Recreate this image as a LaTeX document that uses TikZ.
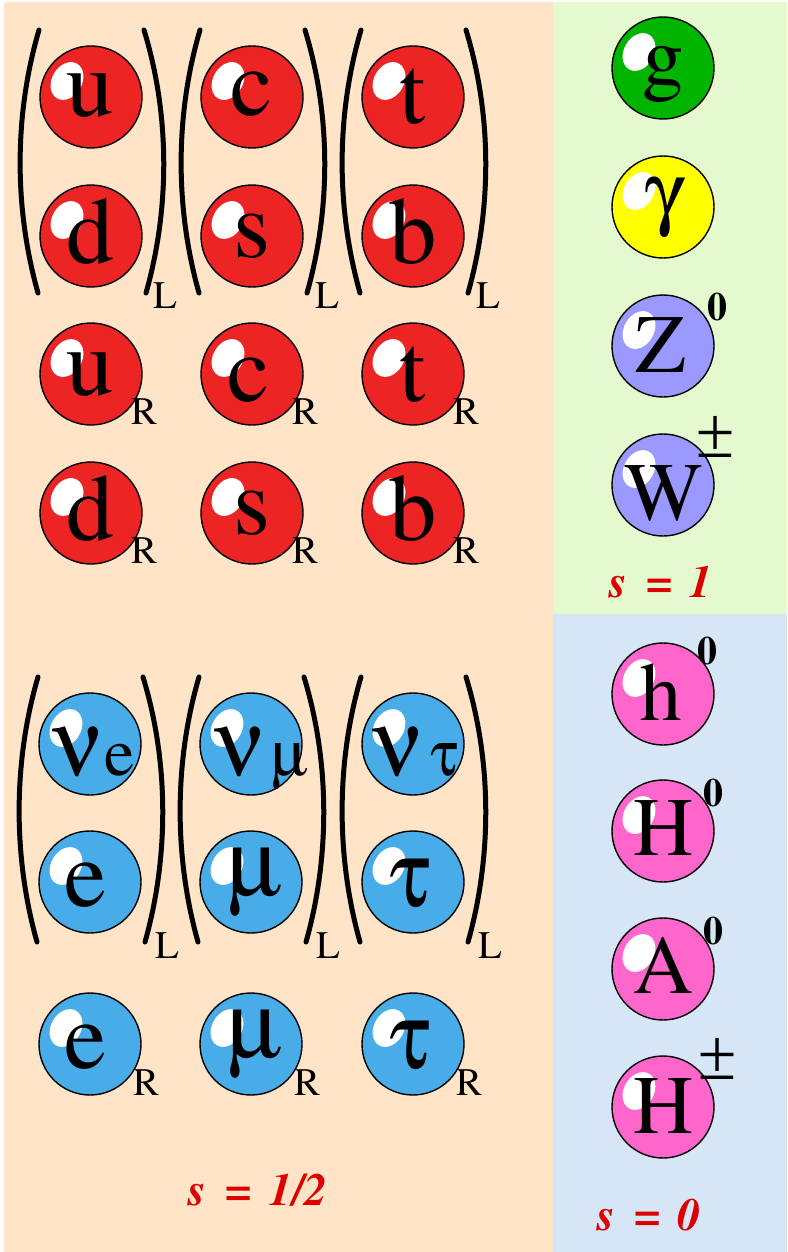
\documentclass[tikz,border=0pt]{standalone}
\usepackage[T1]{fontenc}
\renewcommand\rmdefault{ptm}
\usetikzlibrary{calc}
\newcommand\symg[1]{{\usefont{U}{psy}{m}{n}#1}}
\definecolor{bgorange}{RGB}{255,228,200}
\definecolor{bggreen}{RGB}{228,250,206}
\definecolor{bgblue}{RGB}{214,230,246}
\definecolor{qred}{RGB}{236,36,36}
\definecolor{lblue}{RGB}{72,172,232}
\definecolor{ggreen}{RGB}{0,180,0}
\definecolor{gyellow}{RGB}{255,255,0}
\definecolor{wlav}{RGB}{153,153,255}
\definecolor{hpink}{RGB}{255,102,204}
\definecolor{sred}{RGB}{221,0,0}
\tikzset{
  ballnode/.style={circle, draw=black, line width=1.4pt, minimum size=102pt, inner sep=0pt},
  fletter/.style={anchor=base, inner sep=0pt, font=\fontsize{95}{95}\selectfont},
  bletter/.style={anchor=base, inner sep=0pt, font=\fontsize{83}{83}\selectfont},
  chir/.style={anchor=base west, inner sep=0pt, font=\fontsize{39}{39}\selectfont},
  paren/.style={line width=5pt, line cap=round},
  supz/.style={inner sep=0pt, font=\fontsize{40}{40}\selectfont\bfseries},
  suppm/.style={inner sep=0pt, font=\fontsize{62}{62}\selectfont},
  spinlab/.style={anchor=base, inner sep=0pt, text=sred, font=\fontsize{46}{46}\selectfont\bfseries\itshape},
  shine/.style={fill=white},
}
\newcommand\pball[4]{%
  \node[ballnode, fill=#4] (#1) at (#2,#3) {};
  \coordinate (#1-hl) at ($(#1)+(-24,-16)$);
  \fill[shine, rotate around={60:(#1-hl)}] (#1-hl) ellipse [x radius=20pt, y radius=15pt];
}
\newcommand\pbrackets[3]{%
  \draw[paren] (#1-52,#2) .. controls (#1-77,#2+85) and (#1-77,#3-85) .. (#1-53,#3);
  \draw[paren] (#1+53,#2) .. controls (#1+79,#2+85) and (#1+79,#3-85) .. (#1+55,#3);
}
\begin{document}
\begin{tikzpicture}[x=1pt,y=-1pt]
\useasboundingbox (0,0) rectangle (787,1252);
\fill[white] (0,0) rectangle (787,1252);
\fill[bgorange] (4,2) rectangle (553,1252);
\fill[bggreen] (553,2) rectangle (787,614);
\fill[bgblue] (553,614) rectangle (787,1252);

% ---------- quarks ----------
\pbrackets{91}{30}{293}
\pbrackets{252}{30}{293}
\pbrackets{413}{30}{293}
\node[chir] (L1) at (153,308) {L};
\node[chir] (L2) at (315,308) {L};
\node[chir] (L3) at (476,308) {L};

\pball{u}{91}{97}{qred}
\pball{c}{252}{97}{qred}
\pball{t}{413}{97}{qred}
\pball{d}{91}{236}{qred}
\pball{s}{252}{236}{qred}
\pball{b}{413}{236}{qred}
\pball{uR}{91}{374}{qred}
\pball{cR}{252}{374}{qred}
\pball{tR}{413}{374}{qred}
\pball{dR}{91}{513}{qred}
\pball{sR}{252}{513}{qred}
\pball{bR}{413}{513}{qred}

\node[fletter] (u-t) at ($(u)+(-1,20)$) {u};
\node[fletter] (c-t) at ($(c)+(0,19)$) {c};
\node[fletter] (t-t) at ($(t)+(0,27)$) {t};
\node[fletter] (d-t) at ($(d)+(-1,27)$) {d};
\node[fletter] (s-t) at ($(s)+(0,21)$) {s};
\node[fletter] (b-t) at ($(b)+(0,27)$) {b};
\node[fletter] (uR-t) at ($(uR)+(-1,21)$) {u};
\node[fletter] (cR-t) at ($(cR)+(-3,27)$) {c};
\node[fletter] (tR-t) at ($(tR)+(0,27)$) {t};
\node[fletter] (dR-t) at ($(dR)+(-1,27)$) {d};
\node[fletter] (sR-t) at ($(sR)+(0,21)$) {s};
\node[fletter] (bR-t) at ($(bR)+(0,27)$) {b};

\node[chir] (uR-r) at ($(uR)+(40,50)$) {R};
\node[chir] (cR-r) at ($(cR)+(40,50)$) {R};
\node[chir] (tR-r) at ($(tR)+(40,50)$) {R};
\node[chir] (dR-r) at ($(dR)+(40,50)$) {R};
\node[chir] (sR-r) at ($(sR)+(40,50)$) {R};
\node[chir] (bR-r) at ($(bR)+(40,50)$) {R};

% ---------- leptons ----------
\pbrackets{90}{677}{942}
\pbrackets{251}{677}{942}
\pbrackets{413}{677}{942}
\node[chir] (L4) at (155,958) {L};
\node[chir] (L5) at (316,958) {L};
\node[chir] (L6) at (478,958) {L};

\pball{ve}{90}{744}{lblue}
\pball{vm}{251}{744}{lblue}
\pball{vt}{413}{744}{lblue}
\pball{e}{90}{882}{lblue}
\pball{m}{251}{882}{lblue}
\pball{ta}{413}{882}{lblue}
\pball{eR}{90}{1044}{lblue}
\pball{mR}{251}{1044}{lblue}
\pball{taR}{413}{1044}{lblue}

\node[fletter] (ve-t) at ($(ve)+(4,31)$) {\symg{n}\kern1pt{\fontsize{68}{68}\selectfont e}};
\node[fletter] (vm-t) at ($(vm)+(11,31)$) {\symg{n}\kern6pt{\fontsize{64}{64}\selectfont\symg{m}}};
\node[fletter] (vt-t) at ($(vt)+(3,31)$) {\symg{n}\kern8pt{\fontsize{64}{64}\selectfont\symg{t}}};
\node[fletter] (e-t) at ($(e)+(-4,24)$) {e};
\node[fletter] (m-t) at ($(m)+(4,13)$) {\symg{m}};
\node[fletter] (ta-t) at ($(ta)+(-3,24)$) {\symg{t}};
\node[fletter] (eR-t) at ($(eR)+(-4,24)$) {e};
\node[fletter] (mR-t) at ($(mR)+(4,13)$) {\symg{m}};
\node[fletter] (taR-t) at ($(taR)+(-3,24)$) {\symg{t}};

\node[chir] (eR-r) at ($(eR)+(43,51)$) {R};
\node[chir] (mR-r) at ($(mR)+(43,51)$) {R};
\node[chir] (taR-r) at ($(taR)+(43,51)$) {R};

\node[spinlab] (shalf) at (258,1205) {s\hspace{.42em}=\hspace{.38em}1/2};

% ---------- gauge bosons ----------
\pball{g}{663}{68}{ggreen}
\pball{gam}{663}{207}{gyellow}
\pball{Z}{663}{346}{wlav}
\pball{W}{663}{485}{wlav}
\node[bletter] (g-t) at ($(g)+(0,17)$) {g};
\node[bletter] (gam-t) at ($(gam)+(0,12)$) {\symg{g}};
\node[bletter] (Z-t) at ($(Z)+(-2,26)$) {Z};
\node[bletter] (W-t) at ($(W)+(1,35)$) {W};
\node[supz] (Z-s) at ($(Z)+(54,-39)$) {0};
\node[suppm] (W-s) at ($(W)+(53,-47)$) {\symg{\char"B1}};
\node[spinlab] (sone) at (661,597) {s\hspace{.42em}=\hspace{.38em}1};

% ---------- Higgs ----------
\pball{h}{663}{694}{hpink}
\pball{H}{663}{831}{hpink}
\pball{A}{663}{969}{hpink}
\pball{Hc}{663}{1107}{hpink}
\node[bletter] (h-t) at ($(h)+(-2,26)$) {h};
\node[bletter] (H-t) at ($(H)+(0,24)$) {H};
\node[bletter] (A-t) at ($(A)+(0,24)$) {A};
\node[bletter] (Hc-t) at ($(Hc)+(0,26)$) {H};
\node[supz] (h-s) at ($(h)+(44,-43)$) {0};
\node[supz] (H-s) at ($(H)+(50,-38)$) {0};
\node[supz] (A-s) at ($(A)+(50,-38)$) {0};
\node[suppm] (Hc-s) at ($(Hc)+(55,-48)$) {\symg{\char"B1}};
\node[spinlab] (szero) at (649,1230) {s\hspace{.42em}=\hspace{.38em}0};
\end{tikzpicture}
\end{document}
